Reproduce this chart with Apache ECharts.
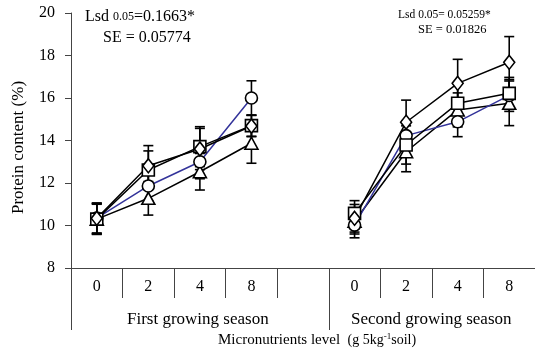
<!DOCTYPE html>
<html>
<head>
<meta charset="utf-8">
<script src="https://cdn.jsdelivr.net/npm/echarts@6/dist/echarts.min.js"></script>
<style>html,body{margin:0;padding:0;background:#fff;}#c{width:535px;height:354px;}</style>
</head>
<body>
<div id="c"></div>
<script>
const categories = ['0','2','4','8','','0','2','4','8'];
const seasons = ['First growing season','Second growing season'];
const yTicks = {min: 8, max: 20, interval: 2};

const diamondVals  = [10.34, 12.81, 13.60, 14.68, null, 10.34, 14.86, 16.69, 17.68];
const diamondErr   = [0.72, 0.95, 0.97, 0.50, null, 0.65, 1.04, 1.13, 1.21];
const squareVals   = [10.30, 12.61, 13.71, 14.70, null, 10.57, 13.79, 15.75, 16.22];
const squareErr    = [0.72, 0.90, 0.94, 0.50, null, 0.60, 0.90, 0.90, 0.75];
const circleVals   = [10.35, 11.86, 13.00, 16.00, null, 10.02, 14.23, 14.88, 16.12];
const circleErr    = [0.70, 0.70, 0.80, 0.81, null, 0.60, 0.70, 0.70, 0.75];
const triangleVals = [10.30, 11.28, 12.53, 13.87, null, 10.20, 13.47, 15.44, 15.75];
const triangleErr  = [0.70, 0.79, 0.86, 0.94, null, 0.60, 0.94, 0.80, 1.05];

const FONT = 'Liberation Serif';
const chart = echarts.init(document.getElementById('c'), null, {renderer: 'canvas'});

function errData(vals, errs) {
  const out = [];
  vals.forEach((v, i) => {
    if (v == null || errs[i] == null) return;
    out.push([i, v - errs[i], v + errs[i]]);
  });
  return out;
}
function errSeries(vals, errs) {
  return {
    type: 'custom',
    xAxisIndex: 0, yAxisIndex: 0,
    data: errData(vals, errs),
    z: 1,
    silent: true,
    renderItem: function (params, api) {
      const x = api.value(0);
      const lo = api.coord([x, api.value(1)]);
      const hi = api.coord([x, api.value(2)]);
      const hw = 5;
      const st = {stroke: '#000', lineWidth: 1.6};
      return {
        type: 'group',
        children: [
          {type: 'line', shape: {x1: lo[0], y1: lo[1], x2: hi[0], y2: hi[1]}, style: st},
          {type: 'line', shape: {x1: lo[0]-hw, y1: lo[1], x2: lo[0]+hw, y2: lo[1]}, style: st},
          {type: 'line', shape: {x1: hi[0]-hw, y1: hi[1], x2: hi[0]+hw, y2: hi[1]}, style: st}
        ]
      };
    }
  };
}
function lineSeries(name, vals, symbol, size, color) {
  return {
    name: name,
    type: 'line',
    data: vals,
    symbol: symbol,
    symbolSize: size,
    showAllSymbol: true,
    z: 3,
    lineStyle: {color: color, width: 1.5},
    itemStyle: {color: '#fff', borderColor: '#000', borderWidth: 1.6},
    emphasis: {disabled: true}
  };
}

const option = {
  animation: false,
  backgroundColor: '#fff',
  grid: {left: 71, right: -2, top: 13, bottom: 86, containLabel: false},
  xAxis: [
    {
      type: 'category',
      data: categories,
      boundaryGap: true,
      axisLine: {show: true, lineStyle: {color: '#444', width: 1}},
      axisTick: {show: true, inside: false, length: 30, interval: 0, lineStyle: {color: '#444', width: 1}},
      axisLabel: {show: true, interval: 0, margin: 11, fontFamily: FONT, fontSize: 16, color: '#000'},
      splitLine: {show: false}
    },
    {
      type: 'category',
      data: categories,
      position: 'bottom',
      boundaryGap: true,
      axisLine: {show: false},
      axisTick: {show: true, length: 62, interval: function (i) { return i === 0 || i === 5; }, lineStyle: {color: '#444', width: 1}},
      axisLabel: {show: false},
      splitLine: {show: false}
    }
  ],
  yAxis: {
    type: 'value',
    min: yTicks.min, max: yTicks.max, interval: yTicks.interval,
    name: 'Protein content (%)',
    nameLocation: 'middle',
    nameGap: 44,
    nameTextStyle: {fontFamily: FONT, fontSize: 17, color: '#000', padding: [0, 14, 0, 0]},
    axisLine: {show: true, lineStyle: {color: '#444', width: 1}},
    axisTick: {show: true, inside: false, length: 6, lineStyle: {color: '#444'}},
    axisLabel: {margin: 16, fontFamily: FONT, fontSize: 16, color: '#000'},
    splitLine: {show: false}
  },
  graphic: [
    {type: 'text', left: 127, top: 311, style: {text: seasons[0], font: '17px "Liberation Serif"', fill: '#000'}},
    {type: 'text', left: 351, top: 311, style: {text: seasons[1], font: '17px "Liberation Serif"', fill: '#000'}},
    {type: 'text', left: 218, top: 332, style: {
      text: '{a|Micronutrients level  }{b|(g 5kg}{s|-1}{b|soil)}',
      rich: {
        a: {fontFamily: FONT, fontSize: 15, fill: '#000'},
        b: {fontFamily: FONT, fontSize: 14, fill: '#000'},
        s: {fontFamily: FONT, fontSize: 9, fill: '#000', verticalAlign: 'top', padding: [0, 0, 7, 0]}
      }
    }},
    {type: 'text', left: 85, top: 9, style: {
      text: '{a|Lsd }{s|0.05}{a|=0.1663*}',
      rich: {
        a: {fontFamily: FONT, fontSize: 16, fill: '#000'},
        s: {fontFamily: FONT, fontSize: 12, fill: '#000'}
      }
    }},
    {type: 'text', left: 103, top: 30, style: {text: 'SE = 0.05774', font: '16px "Liberation Serif"', fill: '#000'}},
    {type: 'text', left: 398, top: 9, style: {text: 'Lsd 0.05= 0.05259*', font: '11.5px "Liberation Serif"', fill: '#000'}},
    {type: 'text', left: 418, top: 23, style: {text: 'SE = 0.01826', font: '12.5px "Liberation Serif"', fill: '#000'}}
  ],
  series: [
    errSeries(triangleVals, triangleErr),
    errSeries(circleVals, circleErr),
    errSeries(squareVals, squareErr),
    errSeries(diamondVals, diamondErr),
    lineSeries('triangle', triangleVals, 'triangle', [13, 12], '#000'),
    lineSeries('circle', circleVals, 'circle', 12, '#33339a'),
    lineSeries('square', squareVals, 'rect', 12, '#000'),
    lineSeries('diamond', diamondVals, 'diamond', [11, 14], '#000')
  ]
};
chart.setOption(option);
</script>
</body>
</html>
